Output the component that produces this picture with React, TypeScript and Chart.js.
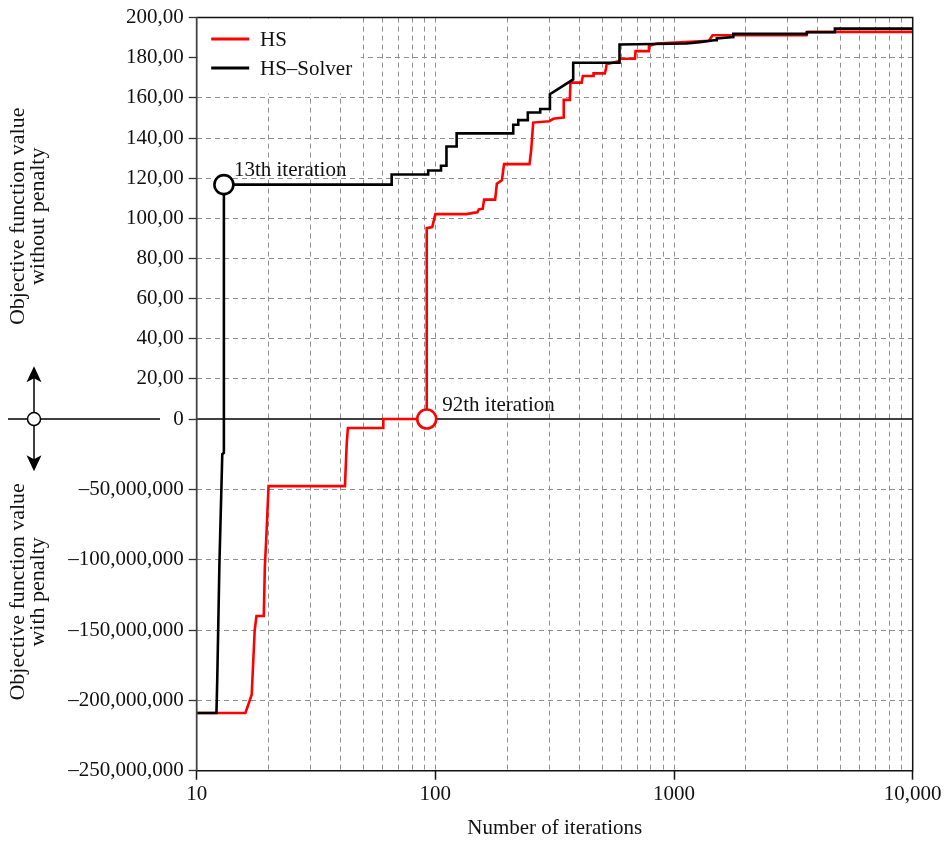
import { useEffect, useRef } from 'react';
import { Chart, registerables } from 'chart.js';

Chart.register(...registerables);

// Convergence history: best objective value found after n iterations.
// Negative values are the penalised objective (infeasible designs),
// non-negative values are the objective without penalty (feasible designs).
const HS_ITERATIONS = [
  10, 16, 17, 17.5, 17.8, 19.1, 19.3, 19.6, 20, 41.8, 42.5, 43, 60.5, 60.5, 92,
  92, 97, 100, 135, 144, 150, 152, 158, 160, 178, 181, 190, 194, 248, 252, 257,
  300, 312, 343, 345, 366, 368, 410, 415, 458, 460, 513, 518, 522, 590, 595, 686,
  690, 780, 785, 845, 1400, 1450, 3590, 3620, 10000,
];
const HS_VALUES = [
  -209e6, -209e6, -196e6, -150e6, -140e6, -140e6, -105e6, -82e6, -47.7e6, -47.7e6,
  -18e6, -6.4e6, -6.4e6, 0, 0,
  95.1, 95.6, 102.1, 102.1, 102.7, 103, 104.4, 104.8, 109.3, 109.3, 117.2, 119, 127,
  127, 134, 147.7, 148.4, 149.6, 150.2, 159, 159, 167.6, 167.6, 170.9, 170.9, 172.2,
  172.2, 174.2, 176.7, 178.4, 179.5, 179.5, 183.3, 183.3, 185.8, 187.1, 188.5, 191.2,
  191.2, 192.9, 192.9,
];

const SOLVER_ITERATIONS = [
  10, 12.1, 12.2, 12.45, 12.8, 13, 13, 65.6, 65.6, 93.3, 93.3, 105.6, 105.6, 111.3,
  111.3, 122.8, 122.8, 212, 212, 222.5, 222.5, 244, 244, 275, 275, 302, 302, 378,
  378, 591, 591, 1129, 1282, 1500, 1510, 1771, 1771, 3600, 3600, 4721, 4721, 10000,
];
const SOLVER_VALUES = [
  -209e6, -209e6, -183e6, -103e6, -25e6, -24e6, 116.8, 116.8, 121.8, 121.8, 123.8,
  123.8, 126.2, 126.2, 135.8, 135.8, 142.3, 142.3, 146.6, 146.6, 148.9, 148.9, 152.7,
  152.7, 154.5, 154.5, 161.8, 169.2, 177.5, 177.5, 186.6, 187.1, 187.8, 188.8, 189.6,
  190.3, 191.9, 191.9, 192.7, 192.7, 194.5, 194.5,
];

// First feasible design of each run
const HS_FIRST_FEASIBLE = { iteration: 92, value: 0, label: '92th iteration' };
const SOLVER_FIRST_FEASIBLE = { iteration: 13, value: 116.8, label: '13th iteration' };

const UPPER_TICKS = [0, 20, 40, 60, 80, 100, 120, 140, 160, 180, 200];
const LOWER_TICKS = [-50e6, -100e6, -150e6, -200e6, -250e6];
const X_TICK_LABELS: Record<number, string> = { 10: '10', 100: '100', 1000: '1000', 10000: '10,000' };

// Split axis: the upper half is the unpenalised objective (0..200),
// the lower half the penalised one (0..-250,000,000) squeezed into LOWER_SPAN units.
const UPPER_MAX = 200;
const LOWER_MIN = -250e6;
const LOWER_SPAN = 175.2;

const toAxis = (v: number) => (v >= 0 ? v : (v / -LOWER_MIN) * LOWER_SPAN);
const fromAxis = (a: number) => (a >= 0 ? a : (a / LOWER_SPAN) * -LOWER_MIN);

const SERIF = "'Liberation Serif', 'Times New Roman', Times, serif";
const TEXT = '#111111';
const GRID = '#8f8f8f';
const HS_COLOR = '#ff0000';
const SOLVER_COLOR = '#000000';
const CLEAR = 'rgba(0,0,0,0)';

const X_GRID: number[] = [];
for (const decade of [10, 100, 1000]) {
  for (let m = 1; m <= 9; m++) X_GRID.push(m * decade);
}
X_GRID.push(10000);

function yLabel(a: number): string {
  if (Math.abs(a) < 1e-6) return '0';
  if (a > 0) return a.toFixed(2).replace('.', ',');
  const p = Math.round(fromAxis(a) / 1e6) * 1e6;
  return '\u2013' + Math.abs(p).toLocaleString('en-US');
}

const decorations = {
  id: 'decorations',
  beforeDatasetsDraw(chart: any) {
    const { ctx, chartArea: a, scales } = chart;
    const y0 = scales.y.getPixelForValue(0);
    ctx.save();
    // zero line between the two halves
    ctx.strokeStyle = '#000';
    ctx.lineWidth = 1.5;
    ctx.beginPath();
    ctx.moveTo(a.left, y0);
    ctx.lineTo(a.right, y0);
    ctx.stroke();

    // legend
    ctx.fillStyle = '#fff';
    ctx.fillRect(a.left + 1, a.top + 1, 163, 75);
    const items = [
      { text: 'HS', color: HS_COLOR, y: a.top + 21.3 },
      { text: 'HS\u2013Solver', color: SOLVER_COLOR, y: a.top + 50.3 },
    ];
    ctx.font = `21px ${SERIF}`;
    ctx.textAlign = 'left';
    ctx.textBaseline = 'alphabetic';
    for (const it of items) {
      ctx.strokeStyle = it.color;
      ctx.lineWidth = 3;
      ctx.beginPath();
      ctx.moveTo(a.left + 14.5, it.y);
      ctx.lineTo(a.left + 52.5, it.y);
      ctx.stroke();
      ctx.fillStyle = TEXT;
      ctx.fillText(it.text, a.left + 63.3, it.y + 7.3);
    }
    ctx.restore();
  },
  afterDatasetsDraw(chart: any) {
    const { ctx, chartArea: a, scales } = chart;
    const { x, y } = scales;
    ctx.save();
    // frame
    ctx.lineWidth = 1.5;
    ctx.strokeStyle = '#111';
    ctx.beginPath();
    ctx.moveTo(a.left, a.top);
    ctx.lineTo(a.right, a.top);
    ctx.lineTo(a.right, a.bottom);
    ctx.lineTo(a.left, a.bottom);
    ctx.stroke();
    ctx.strokeStyle = '#444';
    ctx.lineWidth = 1.8;
    ctx.beginPath();
    ctx.moveTo(a.left, a.top - 0.7);
    ctx.lineTo(a.left, a.bottom);
    ctx.stroke();

    // first-feasible labels
    ctx.font = `21px ${SERIF}`;
    ctx.fillStyle = TEXT;
    ctx.textAlign = 'left';
    ctx.textBaseline = 'alphabetic';
    const sx = x.getPixelForValue(SOLVER_FIRST_FEASIBLE.iteration);
    const sy = y.getPixelForValue(toAxis(SOLVER_FIRST_FEASIBLE.value));
    ctx.fillText(SOLVER_FIRST_FEASIBLE.label, sx + 10, sy - 9);
    const hx = x.getPixelForValue(HS_FIRST_FEASIBLE.iteration);
    const hy = y.getPixelForValue(toAxis(HS_FIRST_FEASIBLE.value));
    ctx.fillText(HS_FIRST_FEASIBLE.label, hx + 15.5, hy - 8.4);
    ctx.restore();
  },
  afterDraw(chart: any) {
    const { ctx, chartArea: a, scales } = chart;
    const y0 = scales.y.getPixelForValue(0);
    ctx.save();
    // split-axis marker: horizontal rule, up/down arrows and a circle
    const cx = 34;
    ctx.strokeStyle = '#000';
    ctx.fillStyle = '#000';
    ctx.lineWidth = 1.5;
    ctx.beginPath();
    ctx.moveTo(8, y0);
    ctx.lineTo(160, y0);
    ctx.moveTo(cx, y0 - 44);
    ctx.lineTo(cx, y0 + 44);
    ctx.stroke();
    const head = (tipY: number, dir: number) => {
      ctx.beginPath();
      ctx.moveTo(cx, tipY);
      ctx.lineTo(cx - 7.5, tipY - dir * 16);
      ctx.lineTo(cx, tipY - dir * 12);
      ctx.lineTo(cx + 7.5, tipY - dir * 16);
      ctx.closePath();
      ctx.fill();
    };
    head(y0 - 52.7, -1);
    head(y0 + 52.3, 1);
    ctx.beginPath();
    ctx.arc(cx, y0, 6.5, 0, Math.PI * 2);
    ctx.fillStyle = '#fff';
    ctx.fill();
    ctx.stroke();

    // axis titles of the two halves
    ctx.fillStyle = TEXT;
    ctx.font = `22px ${SERIF}`;
    ctx.textAlign = 'center';
    ctx.textBaseline = 'alphabetic';
    const title = (cy: number, lines: string[]) => {
      ctx.save();
      ctx.translate(24, cy);
      ctx.rotate(-Math.PI / 2);
      lines.forEach((t, i) => ctx.fillText(t, 0, i * 20));
      ctx.restore();
    };
    title((a.top + y0) / 2 - 2, ['Objective function value', 'without penalty']);
    title((y0 + a.bottom) / 2 - 3, ['Objective function value', 'with penalty']);
    ctx.restore();
  },
};

export default function App() {
  const ref = useRef<HTMLCanvasElement>(null);

  useEffect(() => {
    const canvas = ref.current;
    if (!canvas) return;

    const hs = HS_ITERATIONS.map((it, i) => ({ x: it, y: toAxis(HS_VALUES[i]) }));
    const solver = SOLVER_ITERATIONS.map((it, i) => ({ x: it, y: toAxis(SOLVER_VALUES[i]) }));

    const marker = (p: { iteration: number; value: number }, color: string) => ({
      data: [{ x: p.iteration, y: toAxis(p.value) }],
      showLine: false,
      pointRadius: 9.5,
      pointBorderWidth: 2.6,
      pointBorderColor: color,
      pointBackgroundColor: '#fff',
      order: -1,
    });

    const chart = new Chart(canvas, {
      type: 'line',
      data: {
        datasets: [
          {
            label: 'HS',
            data: hs,
            borderColor: HS_COLOR,
            borderWidth: 2.6,
            pointRadius: 0,
            borderJoinStyle: 'miter',
            order: 1,
          },
          {
            label: 'HS\u2013Solver',
            data: solver,
            borderColor: SOLVER_COLOR,
            borderWidth: 2.6,
            pointRadius: 0,
            borderJoinStyle: 'miter',
            order: 0,
          },
          marker(SOLVER_FIRST_FEASIBLE, SOLVER_COLOR) as any,
          marker(HS_FIRST_FEASIBLE, HS_COLOR) as any,
        ],
      },
      options: {
        animation: false,
        responsive: false,
        devicePixelRatio: 1,
        layout: { padding: { left: 0, top: 14.7, right: 38.3, bottom: 0 } },
        plugins: { legend: { display: false }, tooltip: { enabled: false } },
        elements: { line: { tension: 0 } },
        scales: {
          x: {
            type: 'logarithmic',
            min: 10,
            max: 10000,
            afterBuildTicks: (s: any) => {
              s.ticks = X_GRID.map((v) => ({ value: v }));
            },
            afterFit: (s: any) => {
              s.height = 70.3;
            },
            ticks: {
              autoSkip: false,
              maxRotation: 0,
              padding: 2,
              color: TEXT,
              font: { family: SERIF, size: 21 },
              callback: (v: any) => X_TICK_LABELS[Number(v)] ?? '',
            },
            grid: {
              color: (c: any) => {
                const v = c.tick?.value;
                return v === 10 || v === 10000 ? CLEAR : GRID;
              },
              lineWidth: 1,
              tickLength: 9,
              tickWidth: 1.5,
              tickColor: (c: any) => (X_TICK_LABELS[c.tick?.value] ? '#111' : CLEAR),
            },
            border: { display: false, dash: [5, 4] },
            title: {
              display: true,
              text: 'Number of iterations',
              color: TEXT,
              font: { family: SERIF, size: 21 },
              padding: { top: 0, bottom: 0 },
            },
          },
          y: {
            type: 'linear',
            min: -LOWER_SPAN,
            max: UPPER_MAX,
            afterBuildTicks: (s: any) => {
              const vals = [...LOWER_TICKS, ...UPPER_TICKS].map(toAxis).sort((p, q) => p - q);
              s.ticks = vals.map((v) => ({ value: v }));
            },
            afterFit: (s: any) => {
              s.width = 196.7;
            },
            ticks: {
              autoSkip: false,
              padding: 5,
              color: TEXT,
              font: { family: SERIF, size: 21 },
              callback: (v: any) => yLabel(Number(v)),
            },
            grid: {
              color: (c: any) => {
                const v = c.tick?.value;
                if (v === undefined) return GRID;
                if (Math.abs(v) < 1e-6 || v >= UPPER_MAX - 1e-6 || v <= -LOWER_SPAN + 1e-6) return CLEAR;
                return GRID;
              },
              lineWidth: 1,
              tickLength: 8,
              tickWidth: 1.3,
              tickColor: '#333',
            },
            border: { display: false, dash: [5, 4] },
          },
        },
      },
      plugins: [decorations],
    } as any);

    return () => chart.destroy();
  }, []);

  return (
    <div style={{ position: 'absolute', left: 0, top: 0, width: 951, height: 841, background: '#fff' }}>
      <canvas ref={ref} width={951} height={841} style={{ display: 'block' }} />
    </div>
  );
}
